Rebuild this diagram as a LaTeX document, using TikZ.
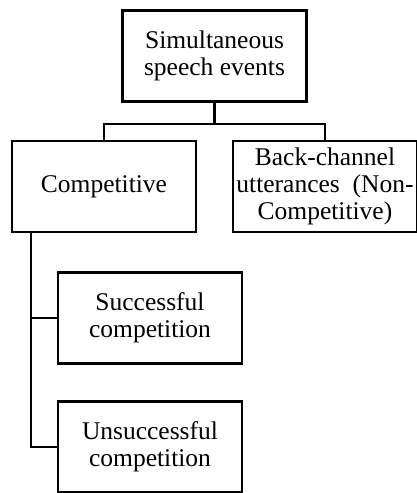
\documentclass[tikz,border=0pt]{standalone}
\usepackage{fontspec}
\setmainfont{Liberation Serif}
\begin{document}
\begin{tikzpicture}[x=1pt,y=-1pt,
  box/.style={draw,line width=2.6pt,minimum width=184pt,minimum height=91pt,
    align=center,inner sep=0pt,font=\fontsize{25.5}{27}\selectfont},
  link/.style={line width=2.6pt}]
\useasboundingbox (0,0) rectangle (417,493);
\fill[white] (0,0) rectangle (417,493);
\node[box] (top)    at (214.5,56)  {Simultaneous\\speech events};
\node[box] (comp)   at (104,186.5) {Competitive};
\node[box] (back)   at (325,186.5) {Back-channel\\utterances\ \ (Non-\\Competitive)};
\node[box] (succ)   at (150,318)   {Successful\\competition};
\node[box] (unsucc) at (150,447)   {Unsuccessful\\competition};
% branch points of the tree
\coordinate (fork)  at (214.5,124);
\coordinate (spine) at (31,0);
\draw[link] (top.south) -- (fork);
\draw[link] (comp.north) |- (fork) -| (back.north);
\draw[link] (comp.south -| spine) |- (unsucc.west);
\draw[link] (succ.west) -- (succ.west -| spine);
\end{tikzpicture}
\end{document}
